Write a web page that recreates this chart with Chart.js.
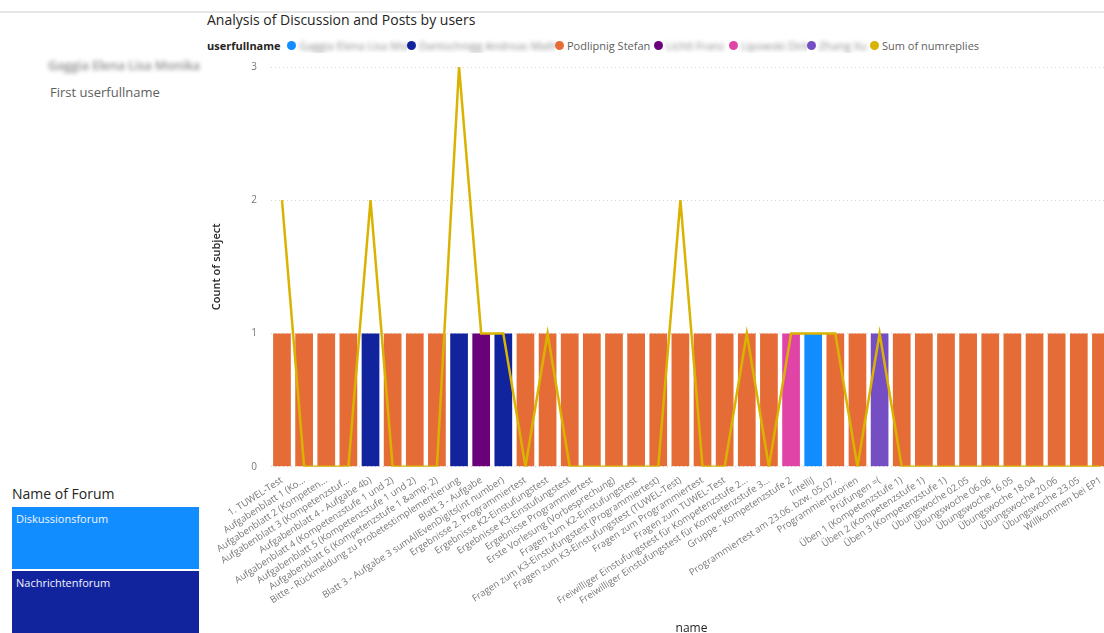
<!DOCTYPE html>
<html lang="de">
<head>
    <meta charset="UTF-8">
    <title>Analysis of Discussion and Posts by users</title>
    <style>
        * { margin: 0; padding: 0; box-sizing: border-box; }
        body {
            width: 1104px;
            height: 633px;
            overflow: hidden;
            background: #ffffff;
            font-family: 'Segoe UI', 'Open Sans', sans-serif;
            position: relative;
        }
        .topline {
            position: absolute;
            left: 0; top: 11px;
            width: 1104px; height: 2px;
            background: #e6e6e6;
        }
        .blur { filter: blur(2px); color: #8a8a8a; }
        .card-name {
            position: absolute; left: 48px; top: 57px;
            font-size: 12.5px; font-weight: 600;
        }
        .card-label {
            position: absolute; left: 50px; top: 83px;
            font-size: 13px; color: #605e5c;
        }
        .chart-title {
            position: absolute; left: 207px; top: 10px;
            font-size: 14px; color: #252423;
        }
        .legend {
            position: absolute; left: 207px; top: 38px;
            display: flex; align-items: center;
            font-size: 11px; color: #605e5c; white-space: nowrap;
        }
        .legend b { color: #252423; width: 80px; display: inline-block; flex: none; }
        .legend .item { display: flex; align-items: center; overflow: hidden; flex: none; }
        .legend .dot {
            width: 9px; height: 9px; border-radius: 50%;
            margin-right: 3px; display: inline-block; flex: none;
        }
        .forum-title {
            position: absolute; left: 12px; top: 484px;
            font-size: 14px; color: #252423;
        }
        .forum-box {
            position: absolute; left: 12px; width: 187px;
            color: #f2f4ff; font-size: 11px; padding: 4px 4px;
        }
        .chart-box {
            position: absolute; left: 210px; top: 47px;
            width: 902px; height: 589px;
        }
    </style>
</head>
<body>
    <div class="topline"></div>

    <div class="card-name blur">Gaggia Elena Lisa Monika</div>
    <div class="card-label">First userfullname</div>

    <div class="chart-title">Analysis of Discussion and Posts by users</div>
    <div class="legend" id="legend"></div>

    <div class="forum-title">Name of Forum</div>
    <div class="forum-box" style="top: 507px; height: 62px; background: #118dff;">Diskussionsforum</div>
    <div class="forum-box" style="top: 571px; height: 62px; background: #12239e;">Nachrichtenforum</div>

    <div class="chart-box"><canvas id="postsChart"></canvas></div>

    <script src="https://cdn.jsdelivr.net/npm/chart.js"></script>
    <script>
        // topics (x axis)
        const topicNames = [
            "1. TUWEL-Test",
            "Aufgabenblatt 1 (Ko...",
            "Aufgabenblatt 2 (Kompeten...",
            "Aufgabenblatt 3 (Kompetenzstuf...",
            "Aufgabenblatt 4 - Aufgabe 4b)",
            "Aufgabenblatt 4 (Kompetenzstufe 1 und 2)",
            "Aufgabenblatt 5 (Kompetenzstufe 1 und 2)",
            "Aufgabenblatt 6 (Kompetenzstufe 1 &amp; 2)",
            "Bitte - Rückmeldung zu Probetestimplementierung",
            "Blatt 3 - Aufgabe",
            "Blatt 3 - Aufgabe 3 sumAllEvenDigits(int number)",
            "Ergebnisse 2. Programmiertest",
            "Ergebnisse K2-Einstufungstest",
            "Ergebnisse K3-Einstufungstest",
            "Ergebnisse Programmiertest",
            "Erste Vorlesung (Vorbesprechung)",
            "Fragen zum K2-Einstufungstest",
            "Fragen zum K3-Einstufungstest (Programmiertest)",
            "Fragen zum K3-Einstufungstest (TUWEL-Test)",
            "Fragen zum Programmiertest",
            "Fragen zum TUWEL-Test",
            "Freiwilliger Einstufungstest für Kompetenzstufe 2...",
            "Freiwilliger Einstufungstest für Kompetenzstufe 3...",
            "Gruppe - Kompetenzstufe 2",
            "IntelliJ",
            "Programmiertest am 23.06. bzw. 05.07.",
            "Programmiertutorien",
            "Prüfungen =(",
            "Üben 1 (Kompetenzstufe 1)",
            "Üben 2 (Kompetenzstufe 1)",
            "Üben 3 (Kompetenzstufe 1)",
            "Übungswoche 02.05",
            "Übungswoche 06.06",
            "Übungswoche 16.05",
            "Übungswoche 18.04",
            "Übungswoche 20.06",
            "Übungswoche 23.05",
            "Willkommen bei EP1"
        ];

        // users (legend), names are blurred in the original
        const userNames = [
            "Gaggia Elena Lisa Monika",
            "Dantschnigg Andreas Mathias",
            "Podlipnig Stefan",
            "Lichtl Franz",
            "Lipowski Dirk",
            "Zhang Xu"
        ];
        const userBlurred = [true, true, false, true, true, true];
        const userColors = ["#118dff", "#12239e", "#e66c37", "#6b007b", "#e044a7", "#744ec2"];
        const legendWidths = [120, 148, 99, 75, 78, 63];

        // which user started each topic (index into userNames)
        const topicUser = [
            2, 2, 2, 2, 1, 2, 2, 2, 1, 3,
            1, 2, 2, 2, 2, 2, 2, 2, 2, 2,
            2, 2, 2, 4, 0, 2, 2, 5, 2, 2,
            2, 2, 2, 2, 2, 2, 2, 2
        ];

        // Count of subject per topic
        const subjectCount = [
            1, 1, 1, 1, 1, 1, 1, 1, 1, 1,
            1, 1, 1, 1, 1, 1, 1, 1, 1, 1,
            1, 1, 1, 1, 1, 1, 1, 1, 1, 1,
            1, 1, 1, 1, 1, 1, 1, 1
        ];

        // Sum of numreplies per topic
        const numReplies = [
            2, 0, 0, 0, 2, 0, 0, 0, 3, 1,
            1, 0, 1, 0, 0, 0, 0, 0, 2, 0,
            0, 1, 0, 1, 1, 1, 0, 1, 0, 0,
            0, 0, 0, 0, 0, 0, 0, 0
        ];

        const yTicks = [0, 1, 2, 3];

        // html legend
        const legend = document.getElementById('legend');
        let html = '<b>userfullname</b>';
        userNames.forEach((n, i) => {
            html += '<span class="item" style="width:' + legendWidths[i] + 'px"><span class="dot" style="background:' + userColors[i] + '"></span>' +
                '<span class="' + (userBlurred[i] ? 'blur' : '') + '">' + n + '</span></span>';
        });
        html += '<span class="item"><span class="dot" style="background:#d9b300"></span>Sum of numreplies</span>';
        legend.innerHTML = html;

        const datasets = [{
            type: 'line',
            label: 'Sum of numreplies',
            data: numReplies,
            borderColor: '#d9b300',
            backgroundColor: '#d9b300',
            borderWidth: 2.5,
            pointRadius: 0,
            tension: 0,
            order: 0
        }];
        userNames.forEach((n, i) => {
            datasets.push({
                type: 'bar',
                label: n,
                data: subjectCount.map((v, k) => topicUser[k] === i ? v : null),
                backgroundColor: userColors[i],
                categoryPercentage: 1,
                barPercentage: 0.8,
                order: 1
            });
        });

        const tickColor = '#777777';
        new Chart(document.getElementById('postsChart'), {
            data: { labels: topicNames, datasets: datasets },
            options: {
                responsive: true,
                maintainAspectRatio: false,
                animation: false,
                layout: { padding: { top: 4, right: 0, left: 0, bottom: 0 } },
                plugins: {
                    legend: { display: false },
                    tooltip: { enabled: false }
                },
                scales: {
                    x: {
                        stacked: true,
                        grid: { display: false },
                        border: { display: false },
                        ticks: {
                            autoSkip: false,
                            minRotation: 33,
                            maxRotation: 33,
                            color: tickColor,
                            padding: 0,
                            font: { family: "'Segoe UI', 'Open Sans', sans-serif", size: 9.5 }
                        },
                        title: {
                            display: true,
                            text: 'name',
                            color: '#252423',
                            padding: { top: 15, bottom: 0 },
                            font: { family: "'Segoe UI', 'Open Sans', sans-serif", size: 12 }
                        }
                    },
                    y: {
                        min: 0,
                        max: 3,
                        afterBuildTicks: axis => { axis.ticks = yTicks.map(v => ({ value: v })); },
                        grid: { color: '#d4d4d4', drawTicks: false, lineWidth: 1 },
                        border: { display: false, dash: [1, 3] },
                        ticks: {
                            color: tickColor,
                            padding: 14,
                            font: { family: "'Segoe UI', 'Open Sans', sans-serif", size: 10 }
                        },
                        title: {
                            display: true,
                            text: 'Count of subject',
                            color: '#252423',
                            padding: { top: 0, bottom: 14 },
                            font: { family: "'Segoe UI', 'Open Sans', sans-serif", size: 11, weight: '600' }
                        }
                    }
                }
            }
        });
    </script>
</body>
</html>
